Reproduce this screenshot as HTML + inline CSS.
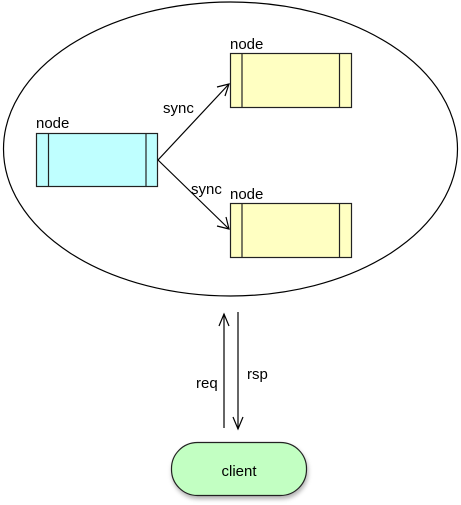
<!DOCTYPE html>
<html><head><meta charset="utf-8"><style>html,body{margin:0;padding:0;background:#fff}svg{display:block}</style></head><body>
<svg width="461" height="505" xmlns="http://www.w3.org/2000/svg" font-family="Liberation Sans, sans-serif" font-size="15">
<defs>
<filter id="sh" x="-20%" y="-20%" width="140%" height="150%"><feDropShadow dx="1" dy="3" stdDeviation="2" flood-color="#000" flood-opacity="0.3"/></filter>
</defs>
<ellipse cx="230.5" cy="149" rx="227" ry="147" fill="#fff" stroke="#000" stroke-width="1.2"/>
<text x="36" y="128">node</text>
<rect x="36.5" y="133.5" width="121" height="53" fill="#bfffff" stroke="#222" stroke-width="1.2"/>
<line x1="48.5" y1="133.5" x2="48.5" y2="186.5" stroke="#222" stroke-width="1.2"/>
<line x1="146" y1="133.5" x2="146" y2="186.5" stroke="#222" stroke-width="1.2"/>
<text x="230" y="49">node</text>
<rect x="230.5" y="53.5" width="121" height="54" fill="#ffffc2" stroke="#222" stroke-width="1.2"/>
<line x1="242" y1="53.5" x2="242" y2="107.5" stroke="#222" stroke-width="1.2"/>
<line x1="339.5" y1="53.5" x2="339.5" y2="107.5" stroke="#222" stroke-width="1.2"/>
<text x="230" y="199">node</text>
<rect x="230.5" y="203.5" width="121" height="54" fill="#ffffc2" stroke="#222" stroke-width="1.2"/>
<line x1="242" y1="203.5" x2="242" y2="257.5" stroke="#222" stroke-width="1.2"/>
<line x1="339.5" y1="203.5" x2="339.5" y2="257.5" stroke="#222" stroke-width="1.2"/>
<g stroke="#000" stroke-width="1.2" fill="none">
<path d="M158 160 L229 84"/><path d="M217 87 L229 84 L225 96"/>
<path d="M158 160 L229 229"/><path d="M217 226 L229 229 L226 217"/>
<path d="M224 428 L224 314"/><path d="M219 326 L224 314 L229 326"/>
<path d="M238 312 L238 429"/><path d="M233 417 L238 429 L243 417"/>
</g>
<text x="163" y="113">sync</text>
<text x="191" y="194">sync</text>
<text x="196" y="388">req</text>
<text x="247" y="379">rsp</text>
<rect x="171.5" y="442.5" width="135" height="53" rx="26" fill="#c2ffc2" stroke="#222" stroke-width="1.2" filter="url(#sh)"/>
<text x="239" y="476" text-anchor="middle">client</text>
</svg>
</body></html>
